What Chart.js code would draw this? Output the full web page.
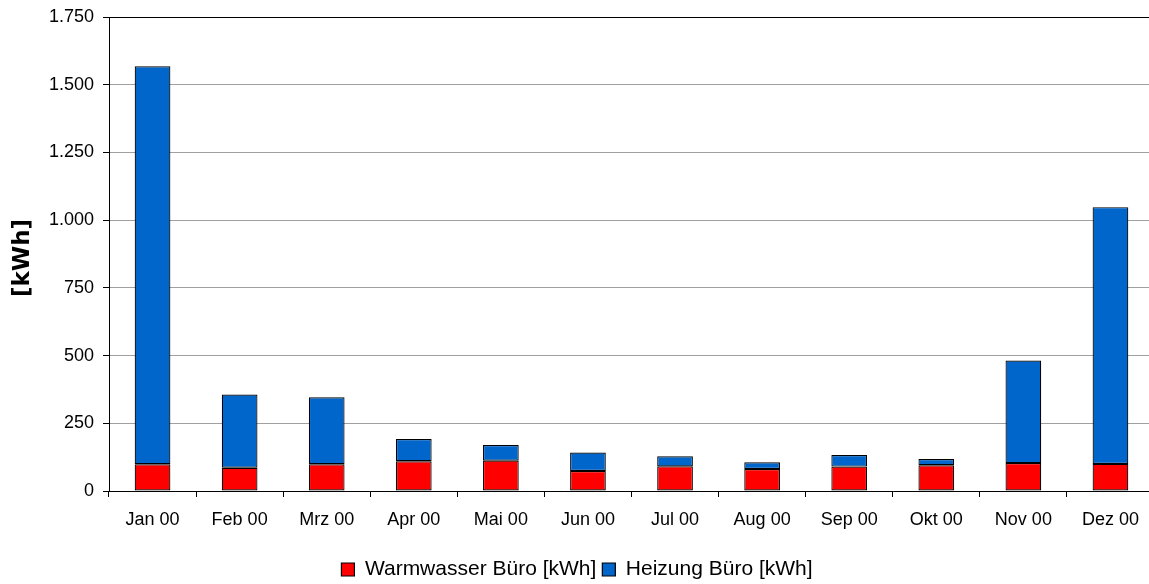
<!DOCTYPE html>
<html>
<head>
<meta charset="utf-8">
<script src="https://cdn.jsdelivr.net/npm/chart.js@4/dist/chart.umd.min.js"></script>
<style>
  html, body { margin: 0; padding: 0; background: #fff; overflow: hidden; }
  .wrap { position: absolute; left: 0; top: 0; width: 1154px; height: 584px; }
</style>
</head>
<body>
<div class="wrap"><canvas class="main-canvas"></canvas></div>
<script>
const months = ["Jan 00", "Feb 00", "Mrz 00", "Apr 00", "Mai 00", "Jun 00", "Jul 00", "Aug 00", "Sep 00", "Okt 00", "Nov 00", "Dez 00"];
const warmwasser = [99, 86, 99, 110, 112, 74, 91, 81, 90, 95, 103, 100];
const heizung = [1469, 270, 247, 82, 58, 68, 37, 25, 43, 23, 379, 948];

// 1750 -> "1.750"
function fmtDe(v) {
  return String(v).replace(/\B(?=(\d{3})+(?!\d))/g, ".");
}

const font = "'Liberation Sans', Arial, sans-serif";
const ctx = document.querySelector(".main-canvas").getContext("2d");

new Chart(ctx, {
  type: "bar",
  data: {
    labels: months,
    datasets: [
      {
        label: "Warmwasser Büro [kWh]",
        data: warmwasser,
        backgroundColor: "#ff0000",
        borderColor: "#000",
        borderWidth: 1.2,
        borderSkipped: false,
        categoryPercentage: 1,
        barPercentage: 0.41,
      },
      {
        label: "Heizung Büro [kWh]",
        data: heizung,
        backgroundColor: "#0066cc",
        borderColor: "#000",
        borderWidth: 1.2,
        borderSkipped: false,
        categoryPercentage: 1,
        barPercentage: 0.41,
      },
    ],
  },
  options: {
    responsive: true,
    maintainAspectRatio: false,
    animation: false,
    layout: { padding: { top: 17, left: 0, right: 0, bottom: -6 } },
    plugins: {
      tooltip: { enabled: false },
      legend: {
        position: "bottom",
        labels: {
          boxWidth: 13,
          boxHeight: 13,
          padding: 6,
          color: "#000",
          font: { family: font, size: 21 },
        },
      },
    },
    scales: {
      x: {
        stacked: true,
        afterFit: (s) => { s.height = 62; },
        border: { color: "#000", width: 1 },
        grid: {
          offset: true,
          drawOnChartArea: false,
          tickLength: 6,
          tickColor: "#000",
        },
        ticks: {
          color: "#000",
          padding: 12,
          maxRotation: 0,
          font: { family: font, size: 18 },
        },
      },
      y: {
        stacked: true,
        min: 0,
        max: 1750,
        afterFit: (s) => {
          s.width = 109;
          s.paddingTop = 0;
          s.paddingBottom = 0;
        },
        border: { color: "#000", width: 1 },
        grid: {
          color: (c) => (c.tick && c.tick.value === 1750 ? "#000" : "#a0a0a0"),
          tickLength: 6,
          tickColor: "#000",
        },
        ticks: {
          stepSize: 250,
          color: "#000",
          padding: 9,
          font: { family: font, size: 18 },
          callback: (v) => fmtDe(v),
        },
        title: {
          display: true,
          text: "[kWh] ",
          color: "#000",
          padding: { top: 9, bottom: 0 },
          font: { family: "'DejaVu Sans', sans-serif", size: 23, weight: "bold" },
        },
      },
    },
  },
});
</script>
</body>
</html>
